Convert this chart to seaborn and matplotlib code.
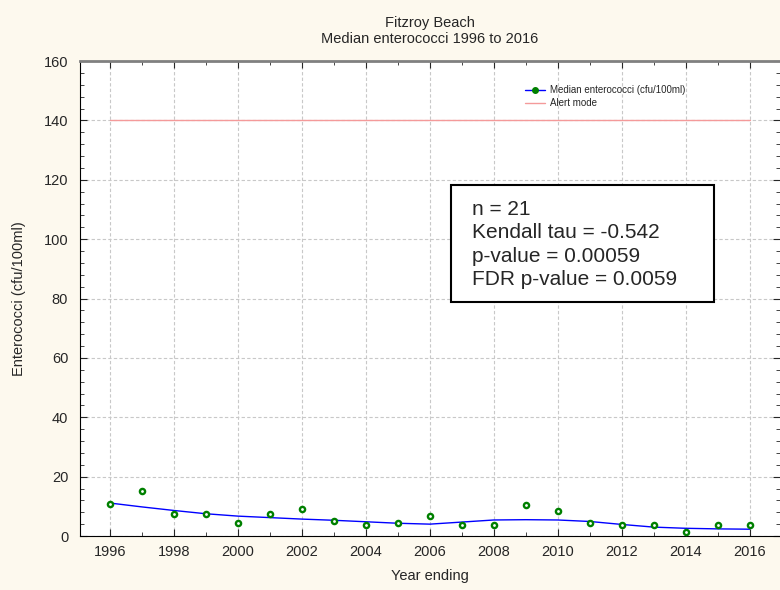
import matplotlib
matplotlib.use("Agg")
import matplotlib.pyplot as plt
from matplotlib.lines import Line2D
from matplotlib.patches import Rectangle
from matplotlib.ticker import MultipleLocator
import pandas as pd
import seaborn as sns

# Data
years = list(range(1996, 2017))
median_ent = [10.7, 15.3, 7.4, 7.4, 4.4, 7.4, 9.1, 5.2, 3.6, 4.4, 6.7,
              3.6, 3.6, 10.5, 8.3, 4.4, 3.6, 3.6, 1.2, 3.6, 3.6]
smooth_ent = [11.1, 9.8, 8.6, 7.5, 6.7, 6.2, 5.7, 5.3, 4.8, 4.3, 4.0,
              4.7, 5.4, 5.5, 5.4, 4.9, 3.9, 3.0, 2.6, 2.4, 2.3]
alert_level = 140
stats_text = "n = 21\nKendall tau = -0.542\np-value = 0.00059\nFDR p-value = 0.0059"

df = pd.DataFrame({"year": years, "median": median_ent, "smooth": smooth_ent,
                   "alert": [alert_level] * len(years)})

sns.set_style("ticks")
plt.rcParams["font.family"] = ["Liberation Sans", "DejaVu Sans"]

fig = plt.figure(figsize=(7.8, 5.9), dpi=100, facecolor="#fdf9ee")
ax = fig.add_axes([0.1026, 0.0915, 0.897, 0.805])
ax.set_facecolor("white")

# alert line, smoothed curve and points
sns.lineplot(data=df, x="year", y="alert", ax=ax, color="#f49a9a", linewidth=1)
sns.lineplot(data=df, x="year", y="smooth", ax=ax, color="blue", linewidth=1)
sns.scatterplot(data=df, x="year", y="median", ax=ax, marker="o", s=14,
                facecolor="white", edgecolor="green", linewidth=1.7, zorder=5)

ax.set_xlim(1995.06, 2016.94)
ax.set_ylim(0, 160)
ax.xaxis.set_major_locator(MultipleLocator(2))
ax.xaxis.set_minor_locator(MultipleLocator(1))
ax.yaxis.set_major_locator(MultipleLocator(20))
ax.yaxis.set_minor_locator(MultipleLocator(4))
ax.tick_params(which="both", direction="in", top=True, right=True, labelsize=10.5)
ax.tick_params(which="major", length=5)
ax.tick_params(which="minor", length=3)
ax.tick_params(axis="x", which="major", pad=6.5)
ax.tick_params(axis="y", which="major", pad=8.5)
ax.grid(True, which="major", linestyle=(0, (3, 2)), color="#c8c8c8", linewidth=0.8)

for side in ["left", "bottom"]:
    ax.spines[side].set_color("black")
ax.spines["top"].set_color("#808080")
ax.spines["top"].set_linewidth(2)
ax.spines["right"].set_visible(False)

ax.set_xlabel("Year ending", fontsize=10.5, labelpad=7.5)
ax.set_ylabel("Enterococci (cfu/100ml)", fontsize=10.5, labelpad=13)
ax.set_title("Fitzroy Beach\nMedian enterococci 1996 to 2016", fontsize=10.5, pad=13)

# legend
handles = [Line2D([], [], color="blue", linewidth=1, marker="o", markersize=4,
                  markerfacecolor="green", markeredgecolor="green"),
           Line2D([], [], color="#f49a9a", linewidth=1)]
ax.legend(handles, ["Median enterococci (cfu/100ml)", "Alert mode"],
          loc="upper left", bbox_to_anchor=(0.624, 0.968), frameon=False,
          fontsize=7, handlelength=2, handletextpad=0.5, labelspacing=0.35)

# stats box
ax.add_patch(Rectangle((0.530, 0.4926), 0.376, 0.2463, transform=ax.transAxes,
                       facecolor="white", edgecolor="black", linewidth=1.5, zorder=6))
ax.text(0.56, 0.614, stats_text, transform=ax.transAxes, fontsize=15,
        va="center", ha="left", linespacing=1.29, zorder=7)

fig.savefig("out.png", dpi=100, facecolor=fig.get_facecolor())
